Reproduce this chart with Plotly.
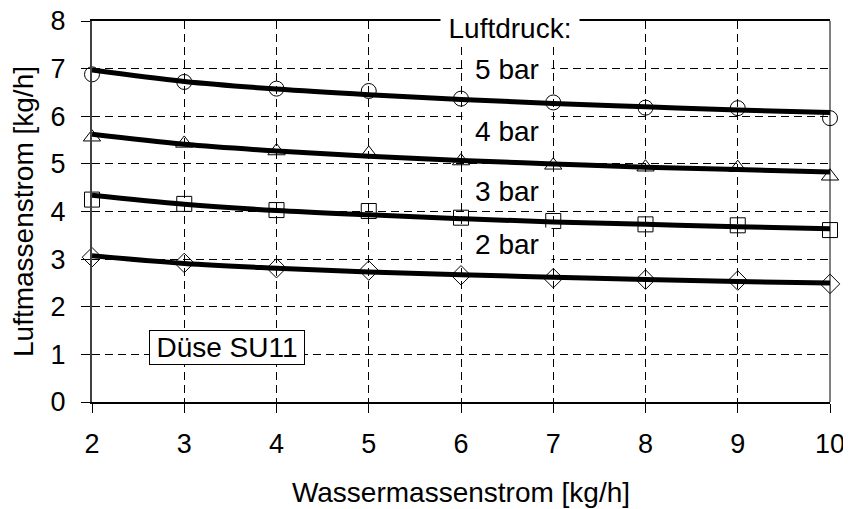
import plotly.graph_objects as go

# Wassermassenstrom [kg/h]
x_wasser = [2, 3, 4, 5, 6, 7, 8, 9, 10]

# measured points (Luftmassenstrom [kg/h]) per Luftdruck
mess_5bar = [6.88, 6.72, 6.58, 6.53, 6.37, 6.29, 6.18, 6.17, 5.96]
mess_4bar = [5.56, 5.43, 5.27, 5.22, 5.06, 4.97, 4.93, 4.92, 4.74]
mess_3bar = [4.25, 4.16, 4.03, 4.01, 3.87, 3.80, 3.73, 3.71, 3.61]
mess_2bar = [3.04, 2.92, 2.81, 2.76, 2.66, 2.60, 2.57, 2.55, 2.48]

# trend lines
trend_5bar = [6.97, 6.73, 6.57, 6.45, 6.35, 6.27, 6.20, 6.13, 6.08]
trend_4bar = [5.62, 5.41, 5.27, 5.16, 5.07, 5.00, 4.93, 4.88, 4.83]
trend_3bar = [4.34, 4.15, 4.02, 3.93, 3.85, 3.78, 3.73, 3.68, 3.64]
trend_2bar = [3.07, 2.91, 2.81, 2.73, 2.67, 2.62, 2.57, 2.53, 2.50]

druck_labels = ["5 bar", "4 bar", "3 bar", "2 bar"]
label_y = [6.99, 5.68, 4.42, 3.31]

FONT = "Liberation Sans, Arial, sans-serif"

fig = go.Figure()

## markers first, then the thick trend lines on top
symbols = ["circle-open", "triangle-up-open", "square-open", "diamond-open"]
for mess, sym in zip([mess_5bar, mess_4bar, mess_3bar, mess_2bar], symbols):
    fig.add_trace(go.Scatter(x=x_wasser, y=mess, mode="markers",
                             marker=dict(symbol=sym, size=15, color="black",
                                         line=dict(color="black", width=1)),
                             cliponaxis=False, hoverinfo="x+y"))

for trend in [trend_5bar, trend_4bar, trend_3bar, trend_2bar]:
    fig.add_trace(go.Scatter(x=x_wasser, y=trend, mode="lines",
                             line=dict(color="black", width=5, shape="spline"),
                             hoverinfo="none"))

## labels
fig.add_annotation(x=6.53, y=7.85, text="Luftdruck:", showarrow=False,
                   font=dict(family=FONT, size=28, color="black"),
                   bgcolor="white", width=136)
for lab, yy in zip(druck_labels, label_y):
    fig.add_annotation(x=6.5, y=yy, text=lab, showarrow=False,
                       font=dict(family=FONT, size=28, color="black"),
                       bgcolor="white", width=86)

fig.add_annotation(x=3.46, y=1.14, text="Düse SU11", showarrow=False,
                   font=dict(family=FONT, size=28, color="black"),
                   bgcolor="white", bordercolor="black", borderwidth=1,
                   borderpad=1, width=152)

# right border of plot area
fig.add_shape(type="line", xref="paper", yref="paper", x0=1, x1=1, y0=0, y1=1,
              line=dict(color="black", width=1))

axis_common = dict(showgrid=True, gridcolor="black", gridwidth=1,
                   griddash="8px,5px", zeroline=False, ticks="outside",
                   ticklen=9, tickcolor="black", dtick=1, automargin=False,
                   ticklabeloverflow="allow",
                   tickfont=dict(family=FONT, size=27, color="black"))

# the page body adds an 8px offset, so the figure is 8px smaller
fig.update_layout(
    width=843, height=501,
    margin=dict(l=84, r=21, t=13, b=107),
    paper_bgcolor="white", plot_bgcolor="white",
    showlegend=False,
    xaxis=dict(axis_common, range=[2, 10], showline=True, linecolor="black",
               linewidth=1.5, mirror=True, ticklabelstandoff=8,
               title=dict(text="Wassermassenstrom [kg/h]", standoff=24,
                          font=dict(family=FONT, size=28, color="black"))),
    yaxis=dict(axis_common, range=[0, 8], showline=True, linecolor="#404040",
               linewidth=2, ticklabelstandoff=10,
               title=dict(text="Luftmassenstrom [kg/h]", standoff=10,
                          font=dict(family=FONT, size=28, color="black"))),
)

fig.write_html("out.html")
